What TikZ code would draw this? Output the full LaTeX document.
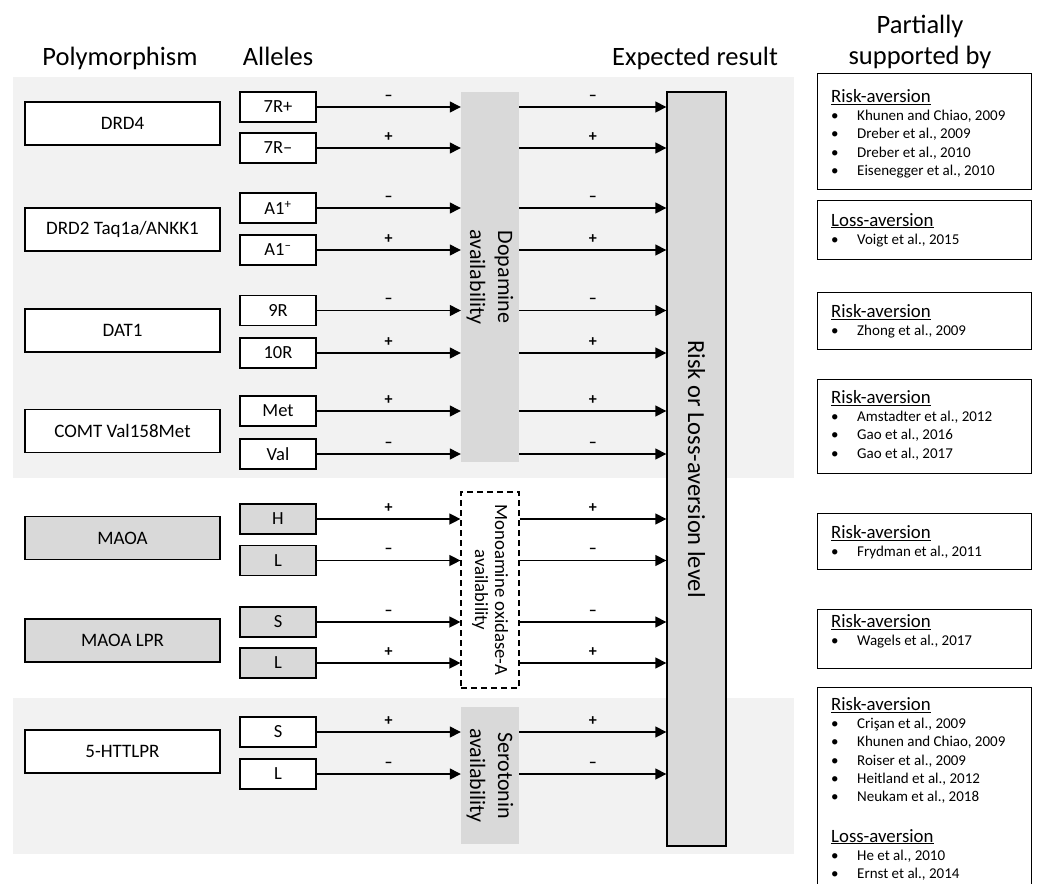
\documentclass[tikz,border=0pt]{standalone}
\usepackage{fontspec}
\setmainfont{Carlito}
\usetikzlibrary{arrows.meta,positioning}

\definecolor{panel}{HTML}{F2F2F2}
\definecolor{bar}{HTML}{D9D9D9}

\newcommand{\rhead}[1]{{\fontsize{18.8}{18.3}\selectfont\underline{#1}}}
\newcommand{\ritem}[1]{\makebox[26pt][l]{\textbullet}#1}

\begin{document}
\begin{tikzpicture}[x=1pt,y=-1pt,
    gene/.style={draw, fill=white, line width=1.2pt, minimum width=195pt, minimum height=43pt, font=\fontsize{19}{19}\selectfont},
    allele/.style={draw, fill=white, line width=1.2pt, minimum width=76pt, minimum height=30pt, inner sep=0pt, font=\fontsize{18.5}{18.5}\selectfont},
    arr/.style={line width=1.3pt, -{Triangle[length=11pt,width=11pt]}},
    sign/.style={midway, above=3pt, font=\bfseries\fontsize{16}{16}\selectfont},
    head/.style={anchor=base, font=\fontsize{26.5}{31}\selectfont},
    refbox/.style={draw, line width=1.2pt, anchor=north west, minimum width=214pt, inner sep=0pt},
    reftext/.style={anchor=north west, align=left, inner sep=0pt, font=\fontsize{15}{18.3}\selectfont}]
  \useasboundingbox (0,0) rectangle (1037,884);
  \clip (0,0) rectangle (1037,884);

  \fill[panel] (13,77) rectangle (794,478);
  \fill[panel] (13,698) rectangle (794,854);

  \node[head] (hpoly) at (120,65) {Polymorphism};
  \node[head] (hall) at (278,65) {Alleles};
  \node[head] (hexp) at (695,65) {Expected result};
  \node[head] (hsup) at (920,33) {Partially};
  \node[head] (hsupb) at (920,64) {supported by};

  \node[gene] (drd4) at (122.5,123.5) {DRD4};
  \node[gene] (drd2) at (122.5,229.5) {DRD2 Taq1a/ANKK1};
  \node[gene] (dat1) at (122.5,330.5) {DAT1};
  \node[gene] (comt) at (122.5,431) {COMT Val158Met};
  \node[gene, fill=bar] (maoa) at (122.5,538) {MAOA};
  \node[gene, fill=bar] (maolpr) at (122.5,640.5) {MAOA LPR};
  \node[gene] (htt) at (122.5,751.5) {5-HTTLPR};

  \node[allele] (r7p) at (278,107) {7R+};
  \node[allele] (r7m) at (278,148) {7R\textendash};
  \node[allele] (a1p) at (278,208) {A1\textsuperscript{+}};
  \node[allele] (a1m) at (278,250) {A1\textsuperscript{\textendash}};
  \node[allele] (r9) at (278,310.5) {9R};
  \node[allele] (r10) at (278,353) {10R};
  \node[allele] (met) at (278,411) {Met};
  \node[allele] (val) at (278,454) {Val};
  \node[allele, fill=bar] (mh) at (278,519) {H};
  \node[allele, fill=bar] (ml) at (278,560.5) {L};
  \node[allele, fill=bar] (ps) at (278,622) {S};
  \node[allele, fill=bar] (pl) at (278,663) {L};
  \node[allele] (hs) at (278,732) {S};
  \node[allele] (hl) at (278,774) {L};

  \node[fill=bar, minimum width=58pt, minimum height=370pt, inner sep=0pt] (dop) at (490,277) {};
  \node[rotate=-90, align=center, font=\fontsize{22}{28}\selectfont] (doptxt) at (dop.center) {Dopamine\\availability};
  \node[draw, fill=white, line width=1.2pt, dash pattern=on 6pt off 4pt, minimum width=58pt, minimum height=196pt, inner sep=0pt] (mao) at (490,590) {};
  \node[rotate=-90, align=center, font=\fontsize{18.7}{20}\selectfont] (maotxt) at (mao.center) {Monoamine oxidase-A\\availability};
  \node[fill=bar, minimum width=58pt, minimum height=137pt, inner sep=0pt] (ser) at (490,775.5) {};
  \node[rotate=-90, align=center, font=\fontsize{22}{28}\selectfont] (sertxt) at (ser.center) {Serotonin\\availability};
  \node[draw, fill=bar, line width=1.3pt, minimum width=59pt, minimum height=754pt, inner sep=0pt] (res) at (696.5,469) {};
  \node[rotate=-90, font=\fontsize{24.5}{24.5}\selectfont] (restxt) at (res.center) {Risk or Loss-aversion level};

  \draw[arr] (r7p.east) -- (r7p.east -| dop.west) node[sign] {\textendash};
  \draw[arr] (r7p.east -| dop.east) -- (r7p.east -| res.west) node[sign] {\textendash};
  \draw[arr] (r7m.east) -- (r7m.east -| dop.west) node[sign] {+};
  \draw[arr] (r7m.east -| dop.east) -- (r7m.east -| res.west) node[sign] {+};
  \draw[arr] (a1p.east) -- (a1p.east -| dop.west) node[sign] {\textendash};
  \draw[arr] (a1p.east -| dop.east) -- (a1p.east -| res.west) node[sign] {\textendash};
  \draw[arr] (a1m.east) -- (a1m.east -| dop.west) node[sign] {+};
  \draw[arr] (a1m.east -| dop.east) -- (a1m.east -| res.west) node[sign] {+};
  \draw[arr] (r9.east) -- (r9.east -| dop.west) node[sign] {\textendash};
  \draw[arr] (r9.east -| dop.east) -- (r9.east -| res.west) node[sign] {\textendash};
  \draw[arr] (r10.east) -- (r10.east -| dop.west) node[sign] {+};
  \draw[arr] (r10.east -| dop.east) -- (r10.east -| res.west) node[sign] {+};
  \draw[arr] (met.east) -- (met.east -| dop.west) node[sign] {+};
  \draw[arr] (met.east -| dop.east) -- (met.east -| res.west) node[sign] {+};
  \draw[arr] (val.east) -- (val.east -| dop.west) node[sign] {\textendash};
  \draw[arr] (val.east -| dop.east) -- (val.east -| res.west) node[sign] {\textendash};
  \draw[arr] (mh.east) -- (mh.east -| mao.west) node[sign] {+};
  \draw[arr] (mh.east -| mao.east) -- (mh.east -| res.west) node[sign] {+};
  \draw[arr] (ml.east) -- (ml.east -| mao.west) node[sign] {\textendash};
  \draw[arr] (ml.east -| mao.east) -- (ml.east -| res.west) node[sign] {\textendash};
  \draw[arr] (ps.east) -- (ps.east -| mao.west) node[sign] {\textendash};
  \draw[arr] (ps.east -| mao.east) -- (ps.east -| res.west) node[sign] {\textendash};
  \draw[arr] (pl.east) -- (pl.east -| mao.west) node[sign] {+};
  \draw[arr] (pl.east -| mao.east) -- (pl.east -| res.west) node[sign] {+};
  \draw[arr] (hs.east) -- (hs.east -| ser.west) node[sign] {+};
  \draw[arr] (hs.east -| ser.east) -- (hs.east -| res.west) node[sign] {+};
  \draw[arr] (hl.east) -- (hl.east -| ser.west) node[sign] {\textendash};
  \draw[arr] (hl.east -| ser.east) -- (hl.east -| res.west) node[sign] {\textendash};

  \node[refbox, minimum height=116pt] (rb1) at (817,73) {};
  \node[reftext] (rt1) at (831,89) {\rhead{Risk-aversion}\\\ritem{Khunen and Chiao, 2009}\\\ritem{Dreber et al., 2009}\\\ritem{Dreber et al., 2010}\\\ritem{Eisenegger et al., 2010}};
  \node[refbox, minimum height=59pt] (rb2) at (817,200) {};
  \node[reftext] (rt2) at (831,213) {\rhead{Loss-aversion}\\\ritem{Voigt et al., 2015}};
  \node[refbox, minimum height=57pt] (rb3) at (817,292) {};
  \node[reftext] (rt3) at (831,304) {\rhead{Risk-aversion}\\\ritem{Zhong et al., 2009}};
  \node[refbox, minimum height=94pt] (rb4) at (817,379) {};
  \node[reftext] (rt4) at (831,390) {\rhead{Risk-aversion}\\\ritem{Amstadter et al., 2012}\\\ritem{Gao et al., 2016}\\\ritem{Gao et al., 2017}};
  \node[refbox, minimum height=56pt] (rb5) at (817,513) {};
  \node[reftext] (rt5) at (831,525) {\rhead{Risk-aversion}\\\ritem{Frydman et al., 2011}};
  \node[refbox, minimum height=59pt] (rb6) at (817,609) {};
  \node[reftext] (rt6) at (831,614) {\rhead{Risk-aversion}\\\ritem{Wagels et al., 2017}};
  \node[refbox, minimum height=210pt] (rb7) at (817,687) {};
  \node[reftext] (rt7) at (831,697) {\rhead{Risk-aversion}\\\ritem{Cri\c{s}an et al., 2009}\\\ritem{Khunen and Chiao, 2009}\\\ritem{Roiser et al., 2009}\\\ritem{Heitland et al., 2012}\\\ritem{Neukam et al., 2018}\\[22pt]\rhead{Loss-aversion}\\\ritem{He et al., 2010}\\\ritem{Ernst et al., 2014}};
\end{tikzpicture}
\end{document}
